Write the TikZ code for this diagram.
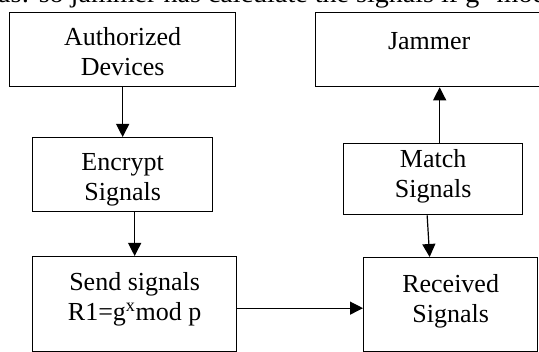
\documentclass[tikz,border=0pt]{standalone}
\usepackage{fontspec}
\setmainfont{Liberation Serif}
\usetikzlibrary{arrows.meta,calc}
\begin{document}
\begin{tikzpicture}[x=1pt,y=-1pt,
  box/.style={draw=black, line width=1.3pt, rectangle, inner sep=0pt, anchor=north west},
  lbl/.style={inner sep=0pt, anchor=north, align=center, font=\fontsize{26}{30}\selectfont},
  conn/.style={line width=1.2pt, -{Triangle[length=13pt,width=13pt]}}]
\useasboundingbox (0,0) rectangle (539,352);
\clip (0,0) rectangle (539,352);
% cropped line of text at the top edge (cut off in the reference too)
\node[inner sep=0pt, anchor=base west, xscale=1.08, font=\fontsize{26}{30}\selectfont] (topline) at (-2,3) {as: so jammer has calculate the signals if g\textsuperscript{x} mod};
% boxes
\node[box, minimum width=226pt, minimum height=74pt] (auth) at (9,12) {};
\node[box, minimum width=227pt, minimum height=74pt] (jam) at (315,12) {};
\node[box, minimum width=180pt, minimum height=74pt] (enc) at (32,137) {};
\node[box, minimum width=204pt, minimum height=95pt] (send) at (32,256) {};
\node[box, minimum width=179pt, minimum height=71pt] (match) at (343,143) {};
\node[box, minimum width=174pt, minimum height=94pt] (rec) at (363,257) {};
% labels
\node[lbl] (authT) at ($(auth.north)+(0,15)$) {Authorized\\Devices};
\node[lbl] (jamT) at ($(jam.north)+(0,20)$) {Jammer};
\node[lbl] (encT) at ($(enc.north)+(0,16)$) {Encrypt\\Signals};
\node[lbl] (sendT) at ($(send.north)+(0,16)$) {Send signals\\R1=g\textsuperscript{x}mod p};
\node[lbl] (matchT) at ($(match.north)+(0,6)$) {Match\\Signals};
\node[lbl] (recT) at ($(rec.north)+(0,17)$) {Received\\Signals};
% connectors
\draw[conn] (auth) -- (enc);
\draw[conn] (send.north |- enc.south) -- (send.north);
\draw[conn] ([yshift=-4pt]send.east) -- ([yshift=-4pt]send.east -| rec.west);
\draw[conn] ([xshift=-6pt]match.south) -- ([xshift=-21pt]rec.north);
\draw[conn] ([xshift=6.5pt]match.north) -- ([xshift=6.5pt]match.north |- jam.south);
\end{tikzpicture}
\end{document}
